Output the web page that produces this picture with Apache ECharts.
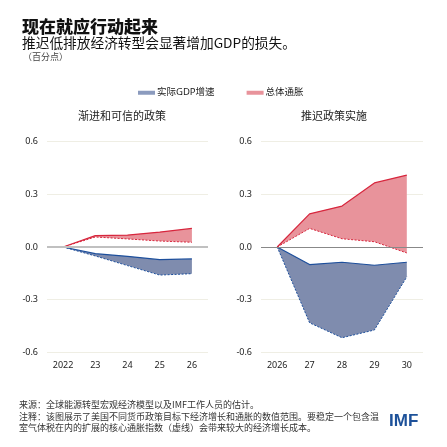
<!DOCTYPE html>
<html>
<head>
<meta charset="UTF-8">
<title>现在就应行动起来</title>
<script src="https://cdn.jsdelivr.net/npm/echarts@6/dist/echarts.min.js"></script>
<style>
  html, body { margin: 0; padding: 0; background: #fff; }
  #main { width: 447px; height: 447px; }
</style>
</head>
<body>
<div id="main"></div>
<script>
// 左图：渐进和可信的政策
var years1 = ['2022', '23', '24', '25', '26'];
var gdpUpper1 = [0, -0.038, -0.053, -0.072, -0.068];
var gdpLower1 = [0, -0.051, -0.106, -0.160, -0.152];
var infUpper1 = [0, 0.065, 0.068, 0.085, 0.106];
var infLower1 = [0, 0.057, 0.046, 0.034, 0.027];

// 右图：推迟政策实施
var years2 = ['2026', '27', '28', '29', '30'];
var gdpUpper2 = [0, -0.100, -0.087, -0.104, -0.087];
var gdpLower2 = [0, -0.432, -0.517, -0.473, -0.170];
var infUpper2 = [0, 0.189, 0.233, 0.365, 0.410];
var infLower2 = [0, 0.106, 0.047, 0.030, -0.034];

var RED = '#D7263D', PINK = '#E8939B';
var BLUE = '#1D4F9C', SLATE = '#7F8CAE';
var FONT = '"Noto Sans", "Noto Sans CJK SC", sans-serif';

function diff(a, b) {
  return a.map(function (v, i) { return +(v - b[i]).toFixed(4); });
}

// 一组带状区域：虚线为下沿，实线为上沿
function band(idx, name, upper, lower, line, fill) {
  var st = 'band' + idx + name;
  return [{
    type: 'line', xAxisIndex: idx, yAxisIndex: idx,
    stack: st, stackStrategy: 'all',
    data: lower, symbol: 'none', z: 4,
    lineStyle: { color: line, width: 1, type: [2, 1.5] }
  }, {
    name: name, type: 'line', xAxisIndex: idx, yAxisIndex: idx,
    stack: st, stackStrategy: 'all',
    data: diff(upper, lower), symbol: 'none', z: 3,
    lineStyle: { color: line, width: 1.2 },
    itemStyle: { color: fill },
    areaStyle: { color: fill, opacity: 1 }
  }];
}

// 零线
function zeroLine(idx, color, width) {
  return {
    type: 'line', xAxisIndex: idx, yAxisIndex: idx, data: [], z: 6,
    markLine: {
      silent: true, symbol: 'none', label: { show: false },
      lineStyle: { color: color, width: width, type: 'solid' },
      data: [{ yAxis: 0 }]
    }
  };
}

function xAx(idx, data) {
  return {
    type: 'category', gridIndex: idx, data: data, boundaryGap: true,
    axisLine: { show: false, onZero: false },
    axisTick: { show: false },
    axisLabel: { color: '#222', fontSize: 9, fontFamily: FONT, margin: 9 }
  };
}

function yAx(idx) {
  return {
    type: 'value', gridIndex: idx, min: -0.6, max: 0.6, interval: 0.3,
    axisLine: { show: false }, axisTick: { show: false },
    splitLine: { lineStyle: { color: '#EFEEE4', width: 1 } },
    axisLabel: { color: '#222', fontSize: 9, fontFamily: FONT, margin: 9,
                 formatter: function (v) { return v.toFixed(1); } }
  };
}

var chart = echarts.init(document.getElementById('main'));

var option = {
  animation: false,
  grid: [
    { left: 47, top: 141.7, width: 161, height: 210.6, outerBoundsMode: 'none' },
    { left: 261, top: 141.7, width: 162, height: 210.6, outerBoundsMode: 'none' }
  ],
  xAxis: [xAx(0, years1), xAx(1, years2)],
  yAxis: [yAx(0), yAx(1)],
  legend: {
    top: 83, left: 133, itemGap: 32, itemWidth: 17, itemHeight: 4,
    textStyle: { fontSize: 9.5, color: '#222', fontFamily: FONT, padding: [0, 0, 0, -3] },
    data: [
      { name: '实际GDP增速', icon: 'rect', itemStyle: { color: '#8B9BBE' } },
      { name: '总体通胀', icon: 'rect', itemStyle: { color: PINK } }
    ]
  },
  graphic: [
    { type: 'text', x: 22, y: 27, style: { text: '现在就应行动起来', font: '900 17px "Noto Sans CJK SC"', fill: '#111', verticalAlign: 'middle' } },
    { type: 'text', x: 22, y: 43, style: { text: '推迟低排放经济转型会显著增加GDP的损失。', font: '13.7px "Noto Sans CJK SC"', fill: '#111', verticalAlign: 'middle' } },
    { type: 'text', x: 23, y: 57, style: { text: '（百分点）', font: '9px "Noto Sans CJK SC"', fill: '#444', verticalAlign: 'middle' } },
    { type: 'text', x: 122, y: 116, style: { text: '渐进和可信的政策', font: '11px "Noto Sans CJK SC"', fill: '#222', align: 'center', verticalAlign: 'middle' } },
    { type: 'text', x: 334, y: 116, style: { text: '推迟政策实施', font: '11px "Noto Sans CJK SC"', fill: '#222', align: 'center', verticalAlign: 'middle' } },
    { type: 'text', x: 19, y: 405, style: { text: '来源：全球能源转型宏观经济模型以及IMF工作人员的估计。', font: '9px "Noto Sans CJK SC"', fill: '#333', verticalAlign: 'middle' } },
    { type: 'text', x: 19, y: 416.5, style: { text: '注释：该图展示了美国不同货币政策目标下经济增长和通胀的数值范围。要稳定一个包含温', font: '9px "Noto Sans CJK SC"', fill: '#333', verticalAlign: 'middle' } },
    { type: 'text', x: 19, y: 428, style: { text: '室气体税在内的扩展的核心通胀指数（虚线）会带来较大的经济增长成本。', font: '9px "Noto Sans CJK SC"', fill: '#333', verticalAlign: 'middle' } },
    { type: 'text', x: 389, y: 421, style: { text: 'IMF', font: '900 17px "Liberation Sans", Arial, sans-serif', fill: '#1D5199', verticalAlign: 'middle' } }
  ],
  series: [].concat(
    band(0, '总体通胀', infUpper1, infLower1, RED, PINK),
    band(0, '实际GDP增速', gdpUpper1, gdpLower1, BLUE, SLATE),
    band(1, '总体通胀', infUpper2, infLower2, RED, PINK),
    band(1, '实际GDP增速', gdpUpper2, gdpLower2, BLUE, SLATE),
    [zeroLine(0, '#C0C0C0', 2), zeroLine(1, '#888888', 1.2)]
  )
};

chart.setOption(option);
</script>
</body>
</html>
